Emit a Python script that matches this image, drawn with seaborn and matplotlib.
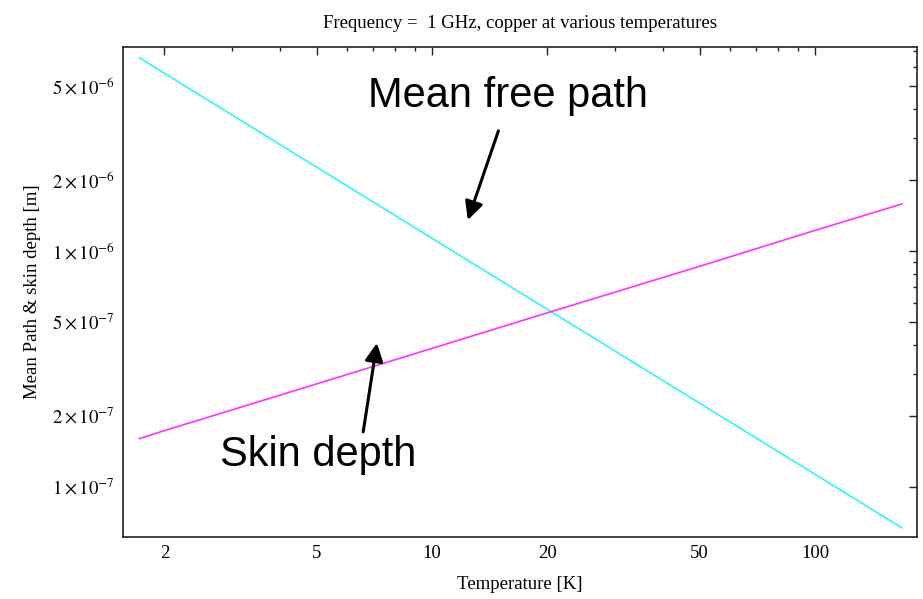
import matplotlib
matplotlib.use("Agg")
import matplotlib.pyplot as plt
import matplotlib.ticker as mticker
import seaborn as sns
import pandas as pd

# ---- data ----
temperature = [1.72, 2, 5, 10, 20, 50, 100, 168.7]
mean_free_path = [6.58e-6, 5.65e-6, 2.26e-6, 1.13e-6, 5.65e-7, 2.26e-7, 1.13e-7, 6.7e-8]
skin_depth = [1.60e-7, 1.73e-7, 2.73e-7, 3.86e-7, 5.46e-7, 8.6e-7, 1.22e-6, 1.58e-6]

x_major = [2, 5, 10, 20, 50, 100]
x_major_labels = ["2", "5", "10", "20", "50", "100"]
x_minor = [3, 4, 6, 7, 8, 9, 30, 40, 60, 70, 80, 90]
y_major = [1e-7, 2e-7, 5e-7, 1e-6, 2e-6, 5e-6]
y_major_labels = [r"$1\times10^{-7}$", r"$2\times10^{-7}$", r"$5\times10^{-7}$",
                  r"$1\times10^{-6}$", r"$2\times10^{-6}$", r"$5\times10^{-6}$"]
y_minor = [3e-7, 4e-7, 6e-7, 7e-7, 8e-7, 9e-7, 3e-6, 4e-6, 6e-6, 7e-6]

title = "Frequency =  1 GHz, copper at various temperatures"
xlabel = "Temperature [K]"
ylabel = "Mean Path & skin depth [m]"

df = pd.DataFrame({"T": temperature, "mfp": mean_free_path, "skin": skin_depth})

sns.set_style("white")
plt.rcParams["font.family"] = ["Liberation Serif", "DejaVu Serif"]
plt.rcParams["mathtext.fontset"] = "stix"
plt.rcParams["text.color"] = "black"
plt.rcParams["axes.labelcolor"] = "black"
plt.rcParams["xtick.color"] = "black"
plt.rcParams["ytick.color"] = "black"

fig = plt.figure(figsize=(9.23, 5.99), dpi=100)
ax = fig.add_axes([0.1333, 0.1035, 0.8602, 0.818])

sns.lineplot(data=df, x="T", y="mfp", ax=ax, color="#33f5f5", linewidth=1.2, legend=False)
sns.lineplot(data=df, x="T", y="skin", ax=ax, color="#ff33ff", linewidth=1.2, legend=False)

ax.set_xscale("log")
ax.set_yscale("log")
ax.set_xlim(1.56, 184.6)
ax.set_ylim(6.13e-8, 7.3e-6)

ax.xaxis.set_major_locator(mticker.FixedLocator(x_major))
ax.xaxis.set_major_formatter(mticker.FixedFormatter(x_major_labels))
ax.xaxis.set_minor_locator(mticker.FixedLocator(x_minor))
ax.xaxis.set_minor_formatter(mticker.NullFormatter())
ax.yaxis.set_major_locator(mticker.FixedLocator(y_major))
ax.yaxis.set_major_formatter(mticker.FixedFormatter(y_major_labels))
ax.yaxis.set_minor_locator(mticker.FixedLocator(y_minor))
ax.yaxis.set_minor_formatter(mticker.NullFormatter())

ax.tick_params(which="both", direction="in", top=True, right=True, color="#222222", width=1.0,
               labelcolor="black")
ax.tick_params(which="major", length=5.5, labelsize=13.5, pad=6)
ax.tick_params(which="minor", length=3)
for s in ax.spines.values():
    s.set_visible(True)
    s.set_color("#222222")
    s.set_linewidth(1.2)

ax.set_title(title, fontsize=13.5, pad=14, color="black")
ax.set_xlabel(xlabel, fontsize=13.5, labelpad=10, color="black")
ax.set_ylabel(ylabel, fontsize=13.5, labelpad=8, color="black")

ann_font = dict(family=["Liberation Sans", "DejaVu Sans"], fontsize=30, color="black")
ax.text(6.81, 4.08e-6, "Mean free path", ha="left", va="baseline", **ann_font)
ax.text(2.79, 1.22e-7, "Skin depth", ha="left", va="baseline", **ann_font)

arrow = dict(arrowstyle="-|>,head_length=1.1,head_width=0.55", color="black", lw=2.2,
             shrinkA=0, shrinkB=0)
ax.annotate("", xy=(12.4, 1.35e-6), xytext=(14.9, 3.22e-6), arrowprops=arrow)
ax.annotate("", xy=(7.18, 4.07e-7), xytext=(6.61, 1.71e-7), arrowprops=arrow)

fig.savefig("out.png", dpi=100)
